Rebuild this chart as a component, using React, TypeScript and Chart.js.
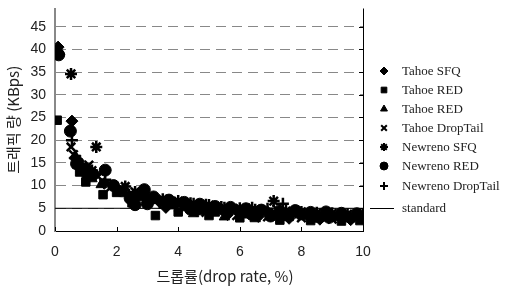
import React, { useEffect, useRef } from "react";
import { Chart, registerables } from "chart.js";
import { drawPoint } from "chart.js/helpers";

Chart.register(...registerables);

const xTickValues = [0, 2, 4, 6, 8, 10];
const yTickValues = [0, 5, 10, 15, 20, 25, 30, 35, 40, 45];

const seriesNames = [
  "Tahoe SFQ",
  "Tahoe RED",
  "Tahoe RED",
  "Tahoe DropTail",
  "Newreno SFQ",
  "Newreno RED",
  "Newreno DropTail",
];
const standardName = "standard";
const standardLevel = 5;

const tahoeSfq: [number, number][] = [
  [0.1, 40.5], [0.55, 24.2], [0.75, 15.5], [1.0, 13.8], [1.3, 12.5], [1.6, 10.5], [2.1, 8.8],
  [2.6, 7.6], [3.0, 7.2], [3.4, 6.4], [3.9, 6.0], [4.4, 5.6], [4.9, 5.2], [5.4, 4.8], [5.9, 4.6],
  [6.4, 4.3], [6.9, 4.2], [7.4, 4.0], [7.9, 3.8], [8.4, 3.6], [8.9, 3.5], [9.4, 3.4], [9.9, 3.3],
  [3.6, 5.2], [4.6, 4.4], [5.6, 3.6], [6.6, 3.2], [7.6, 2.8], [8.6, 2.6], [9.6, 2.5],
];
const tahoeRedSquare: [number, number][] = [
  [0.07, 24.4], [0.8, 13.0], [1.0, 10.8], [1.56, 8.0], [2.0, 8.5], [2.5, 6.2], [3.26, 3.4],
  [3.7, 5.8], [4.2, 5.4], [4.7, 4.5], [5.2, 4.2], [5.7, 4.9], [6.2, 3.8], [6.6, 4.5], [7.1, 3.6],
  [7.6, 3.2], [8.1, 3.4], [8.6, 3.0], [9.1, 3.2], [9.6, 2.9], [10.0, 3.1],
  [4.0, 4.2], [5.0, 3.4], [6.0, 2.9], [7.3, 2.4], [8.3, 2.3], [9.3, 2.2], [9.9, 2.3],
];
const tahoeRedTriangle: [number, number][] = [
  [0.15, 39.5], [0.65, 16.5], [0.9, 14.2], [1.2, 11.5], [1.5, 10.2], [2.3, 8.2], [2.8, 7.4],
  [3.3, 6.8], [3.8, 6.4], [4.3, 5.9], [4.8, 5.5], [5.3, 5.0], [5.8, 4.7], [6.3, 4.8], [6.8, 4.4],
  [7.3, 4.6], [7.8, 4.1], [8.3, 3.9], [8.8, 3.8], [9.3, 3.6], [9.8, 3.4],
  [4.5, 3.8], [5.5, 3.1], [6.5, 2.7], [7.5, 3.0], [8.5, 2.6], [9.5, 2.7],
];
const tahoeDropTail: [number, number][] = [
  [0.52, 18.5], [0.6, 16.8], [1.1, 14.5], [1.4, 12.0], [1.8, 9.6], [2.2, 9.0], [2.7, 8.2],
  [3.1, 6.9], [3.6, 6.5], [4.1, 6.2], [4.6, 5.4], [5.1, 5.0], [5.6, 4.4], [6.1, 4.6], [6.6, 4.0],
  [7.2, 4.8], [7.7, 3.9], [8.2, 3.7], [8.7, 3.4], [9.2, 3.3], [9.7, 3.2],
  [4.9, 4.1], [5.9, 3.4], [6.9, 3.1], [8.0, 2.9], [9.0, 2.6],
];
const newrenoSfq: [number, number][] = [
  [0.52, 34.6], [1.34, 18.5], [0.7, 15.8], [1.2, 13.3], [2.28, 9.8], [2.6, 8.6], [3.5, 7.0],
  [4.0, 6.6], [4.5, 6.0], [5.0, 5.7], [5.5, 5.1], [6.0, 5.0], [6.5, 4.7], [7.1, 6.6], [7.5, 4.4],
  [8.0, 4.2], [8.5, 4.0], [9.0, 3.9], [9.5, 3.7], [10.0, 3.6],
];
const newrenoRed: [number, number][] = [
  [0.12, 38.8], [0.5, 22.0], [0.7, 14.8], [1.05, 12.6], [1.63, 13.4], [1.9, 10.0], [2.44, 7.2],
  [2.9, 9.1], [3.2, 7.5], [3.7, 6.8], [4.2, 6.3], [4.7, 5.9], [5.2, 5.4], [5.7, 5.2], [6.2, 4.9],
  [6.7, 4.6], [7.3, 4.3], [7.8, 4.5], [8.3, 4.1], [8.8, 4.2], [9.3, 3.9], [9.8, 3.8],
  [2.6, 5.8], [3.0, 6.0], [4.4, 4.8], [6.4, 3.6], [7.0, 3.3], [8.9, 3.0],
];
const newrenoDropTail: [number, number][] = [
  [0.55, 20.0], [0.75, 14.0], [1.1, 11.8], [1.63, 11.3], [2.0, 9.2], [2.4, 8.0], [2.9, 7.8],
  [3.4, 6.2], [3.9, 5.5], [4.4, 6.1], [4.9, 5.8], [5.4, 5.3], [5.9, 4.2], [6.4, 5.1], [6.9, 4.9],
  [7.4, 6.0], [7.9, 4.3], [8.4, 3.5], [8.9, 3.9], [9.4, 3.5], [9.9, 3.6],
];

const seriesData = [
  tahoeSfq, tahoeRedSquare, tahoeRedTriangle, tahoeDropTail, newrenoSfq, newrenoRed, newrenoDropTail,
];
const seriesStyles = ["rectRot", "rect", "triangle", "crossRot", "star", "circle", "cross"];
const lineStyles = new Set(["crossRot", "star", "cross"]);

const decorPlugin = {
  id: "decor",
  afterDraw(chart: any) {
    const { ctx, chartArea: a } = chart;
    const xs = chart.scales.x;
    const ys = chart.scales.y;
    ctx.save();
    ctx.strokeStyle = "#000";
    ctx.lineWidth = 1;
    ctx.beginPath();
    ctx.moveTo(a.right + 0.5, a.top);
    ctx.lineTo(a.right + 0.5, a.bottom);
    for (const v of yTickValues) {
      const py = Math.round(ys.getPixelForValue(v)) + 0.5;
      ctx.moveTo(a.right, py);
      ctx.lineTo(a.right - 4, py);
    }
    for (const v of xTickValues) {
      const px = Math.round(xs.getPixelForValue(v)) + 0.5;
      ctx.moveTo(px, a.bottom);
      ctx.lineTo(px, a.bottom - 4);
    }
    ctx.stroke();

    const lx = 384;
    const tx = 402;
    const rows = [71, 90, 109, 128, 147, 166, 186];
    ctx.font = "13px 'Liberation Serif'";
    ctx.textBaseline = "middle";
    ctx.textAlign = "left";
    seriesNames.forEach((name, i) => {
      const st = seriesStyles[i];
      ctx.fillStyle = "#000";
      ctx.strokeStyle = "#000";
      ctx.lineWidth = lineStyles.has(st) ? 2 : 1;
      drawPoint(ctx, { pointStyle: st, radius: 4, rotation: 0, borderWidth: ctx.lineWidth }, lx, rows[i]);
      ctx.fillStyle = "#222";
      ctx.fillText(name, tx, rows[i] + 1);
    });
    ctx.strokeStyle = "#000";
    ctx.lineWidth = 1;
    ctx.beginPath();
    ctx.moveTo(370, 208.5);
    ctx.lineTo(394, 208.5);
    ctx.stroke();
    ctx.fillStyle = "#222";
    ctx.fillText(standardName, tx, 209);

    ctx.font = "15px 'Noto Sans CJK KR'";
    ctx.textAlign = "center";
    ctx.fillStyle = "#222";
    ctx.fillText("드롭률(drop rate, %)", 225, 276);
    ctx.restore();
  },
};

export default function App() {
  const ref = useRef<HTMLCanvasElement>(null);
  useEffect(() => {
    const datasets: any[] = seriesData.map((pts, i) => ({
      type: "scatter",
      label: seriesNames[i],
      data: pts.map(([x, y]) => ({ x, y })),
      pointStyle: seriesStyles[i],
      pointRadius: 6,
      pointBackgroundColor: "#000",
      pointBorderColor: "#000",
      pointBorderWidth: lineStyles.has(seriesStyles[i]) ? 2.5 : 1,
      order: 1,
    }));
    datasets.push({
      type: "line",
      label: standardName,
      data: [
        { x: 0, y: standardLevel },
        { x: 10, y: standardLevel },
      ],
      borderColor: "#000",
      borderWidth: 1,
      pointRadius: 0,
      order: 2,
    });
    const chart = new Chart(ref.current!, {
      type: "scatter",
      data: { datasets },
      options: {
        animation: false,
        responsive: true,
        maintainAspectRatio: false,
        layout: { padding: { left: 0, top: 0, right: 146, bottom: 0 } },
        plugins: { legend: { display: false }, tooltip: { enabled: false } },
        scales: {
          x: {
            type: "linear",
            min: 0,
            max: 10,
            ticks: {
              stepSize: 2,
              color: "#222",
              padding: 13,
              font: { family: "'Liberation Sans'", size: 14 },
            },
            afterBuildTicks: (s: any) => {
              s.ticks = xTickValues.map((v) => ({ value: v }));
            },
            grid: { display: false, drawTicks: false },
            border: { display: true, color: "#000", width: 1 },
            afterFit: (s: any) => {
              s.height = 57;
              s.paddingLeft = 0;
              s.paddingRight = 0;
            },
          },
          y: {
            type: "linear",
            min: 0,
            max: 49,
            ticks: {
              color: "#222",
              padding: 9,
              font: { family: "'Liberation Sans'", size: 14 },
            },
            afterBuildTicks: (s: any) => {
              s.ticks = yTickValues.map((v) => ({ value: v }));
            },
            grid: {
              drawTicks: false,
              color: (c: any) => (c.tick && c.tick.value === 0 ? "rgba(0,0,0,0)" : "#888"),
              lineWidth: 1,
            },
            border: { display: true, color: "#888", width: 2, dash: [10, 6] },
            title: {
              display: true,
              text: "트래픽 량 (KBps)",
              color: "#222",
              font: { family: "'Noto Sans CJK KR'", size: 15 },
              padding: { top: 4, bottom: 0 },
            },
            afterFit: (s: any) => {
              s.width = 55;
              s.paddingTop = 0;
              s.paddingBottom = 0;
            },
          },
        },
      },
      plugins: [decorPlugin],
    });
    return () => chart.destroy();
  }, []);
  return (
    <div style={{ position: "fixed", left: 0, top: 0, width: 509, height: 288, background: "#fff" }}>
      <canvas ref={ref} />
    </div>
  );
}
